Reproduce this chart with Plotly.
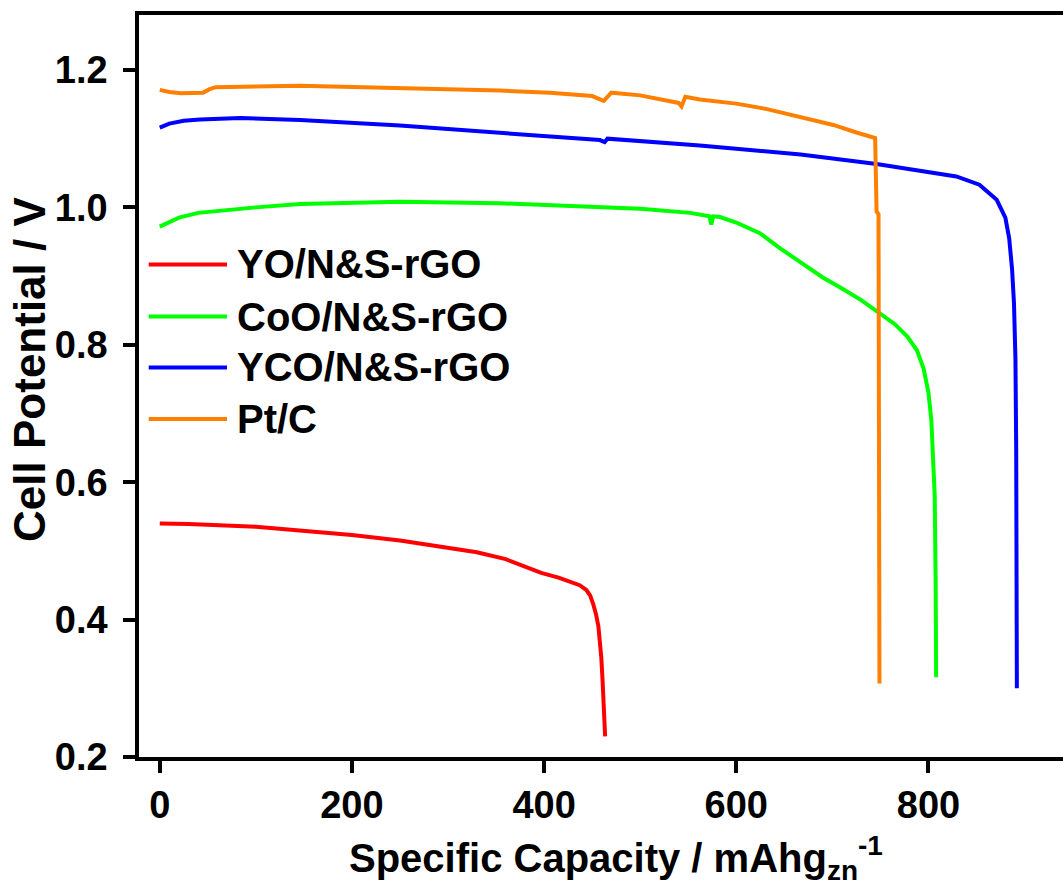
import plotly.graph_objects as go

# Discharge curves: specific capacity (mAh g_zn^-1) vs cell potential (V)
yo_cap = [0, 30, 100, 200, 250, 300, 330, 360, 380, 397, 415, 428, 437, 444, 448, 451, 454, 456.5,
          458, 459.5, 460.7, 461.8, 463.5]
yo_v = [0.540, 0.539, 0.535, 0.523, 0.515, 0.505, 0.498, 0.488, 0.478, 0.468, 0.461, 0.455, 0.450,
        0.443, 0.435, 0.423, 0.408, 0.390, 0.371, 0.345, 0.315, 0.283, 0.230]

coo_cap = [0, 10, 20, 40, 74, 100, 146, 250, 354, 458, 500, 552, 572, 574, 576, 583, 600, 625, 646,
           667, 690, 710, 730, 749, 765, 778, 788, 795, 800, 803, 805, 806.5, 807.5, 808]
coo_v = [0.972, 0.978, 0.985, 0.992, 0.997, 1.000, 1.005, 1.008, 1.006, 1.000, 0.998, 0.992, 0.987,
         0.975, 0.987, 0.986, 0.978, 0.962, 0.940, 0.920, 0.898, 0.882, 0.865, 0.846, 0.830, 0.812,
         0.792, 0.765, 0.730, 0.690, 0.640, 0.580, 0.450, 0.316]

yco_cap = [0, 10, 25, 42, 84, 146, 250, 354, 458, 463, 466, 562, 667, 746, 800, 829, 853, 871, 880,
           884, 887, 889, 890.5, 891.3, 892]
yco_v = [1.116, 1.122, 1.126, 1.128, 1.130, 1.127, 1.119, 1.109, 1.098, 1.095, 1.100, 1.090, 1.077,
         1.063, 1.052, 1.045, 1.033, 1.011, 0.985, 0.955, 0.910, 0.860, 0.780, 0.650, 0.300]

ptc_cap = [0, 10, 22, 45, 52, 58, 146, 250, 354, 406, 450, 462, 470, 500, 540, 543, 547, 562, 600,
           632, 670, 701, 725, 736, 744.5, 746, 748, 749]
ptc_v = [1.171, 1.168, 1.166, 1.167, 1.172, 1.175, 1.177, 1.174, 1.170, 1.167, 1.162, 1.155, 1.167,
         1.163, 1.152, 1.147, 1.161, 1.157, 1.151, 1.143, 1.131, 1.120, 1.109, 1.104, 1.101, 0.994,
         0.990, 0.307]

names = ["YO/N&S-rGO", "CoO/N&S-rGO", "YCO/N&S-rGO", "Pt/C"]
colors = ["#FF0000", "#00FF00", "#0000FF", "#FF8000"]
series = [(yo_cap, yo_v), (coo_cap, coo_v), (yco_cap, yco_v), (ptc_cap, ptc_v)]

x_ticks = [0, 200, 400, 600, 800]
y_ticks = [0.2, 0.4, 0.6, 0.8, 1.0, 1.2]

FONT = "Liberation Sans, Arial, sans-serif"

fig = go.Figure()
for (cap, v), name, col in zip(series, names, colors):
    fig.add_trace(go.Scatter(x=cap, y=v, mode="lines", name=name,
                             line=dict(color=col, width=4), showlegend=False))

# Hand-placed legend inside the plot, left side
leg_y = [0.917, 0.841, 0.767, 0.692]
for name, col, ly in zip(names, colors, leg_y):
    fig.add_shape(type="line", xref="x", yref="y", x0=-11.5, x1=70, y0=ly, y1=ly,
                  line=dict(color=col, width=4))
    fig.add_annotation(x=78, y=ly, xref="x", yref="y", text=f"<b>{name}</b>", showarrow=False,
                       xanchor="left", yanchor="middle",
                       font=dict(family=FONT, size=40, color="black"))

# Axis titles
fig.add_annotation(x=0.5, y=0, xref="paper", yref="paper", yshift=-71, xshift=15,
                   text="<b>Specific Capacity / mAhg<sub>zn</sub><sup>-1</sup></b>",
                   showarrow=False, xanchor="center", yanchor="top",
                   font=dict(family=FONT, size=40, color="black"))
fig.add_annotation(x=-0.118, y=0.523, xref="paper", yref="paper", textangle=-90,
                   text="<b>Cell Potential / V</b>", showarrow=False,
                   xanchor="center", yanchor="middle",
                   font=dict(family=FONT, size=44, color="black"))

fig.update_layout(
    width=1063, height=885,
    margin=dict(l=139, r=0, t=15, b=128),
    paper_bgcolor="white", plot_bgcolor="white",
    font=dict(family=FONT, color="black"),
)
fig.update_xaxes(
    range=[-21.6, 940], tickvals=x_ticks, ticktext=[f"<b>{t}</b>" for t in x_ticks],
    showgrid=False, zeroline=False, showline=True, linecolor="black", linewidth=3.5,
    mirror=True, ticks="outside", ticklen=12, tickwidth=3.5, tickcolor="black",
    tickfont=dict(family=FONT, size=38, color="black"),
)
fig.update_yaxes(
    range=[0.2, 1.28], tickvals=y_ticks, ticktext=[f"<b>{t:.1f}</b>" for t in y_ticks],
    showgrid=False, zeroline=False, showline=True, linecolor="black", linewidth=3.5,
    ticks="outside", ticklen=12, tickwidth=3.5, tickcolor="black", ticklabelstandoff=8,
    tickfont=dict(family=FONT, size=38, color="black"),
)

fig.write_html("out.html")
